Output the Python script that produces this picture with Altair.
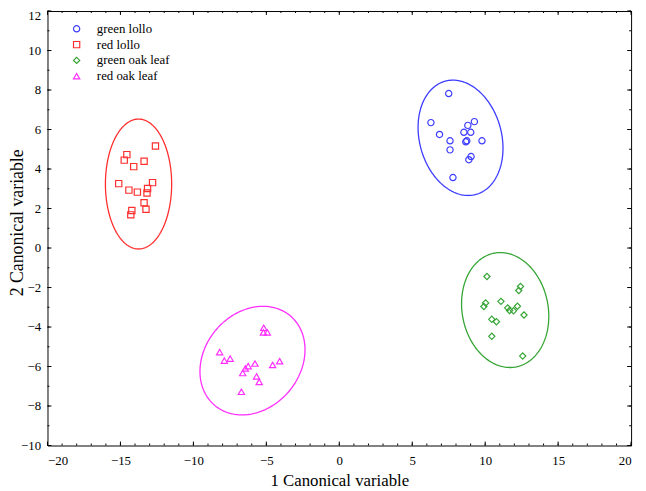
import altair as alt
import pandas as pd
import numpy as np

groups = ["green lollo", "red lollo", "green oak leaf", "red oak leaf"]
colors = ["#3c3cff", "#ff2e2e", "#35a535", "#ff2eff"]
shapes = ["circle", "square", "diamond", "triangle-up"]

gl_x = [7.50, 6.28, 6.87, 7.59, 7.59, 7.79, 8.54, 8.81, 9.26, 9.01, 8.74, 8.67, 9.78, 9.03, 8.88]
gl_y = [7.82, 6.35, 5.75, 5.43, 4.97, 3.57, 5.86, 6.21, 6.40, 5.86, 5.43, 5.38, 5.43, 4.63, 4.47]

rl_x = [-12.60, -14.56, -14.74, -13.38, -14.09, -15.12, -12.80, -14.42, -13.84, -13.14, -13.18, -13.38, -13.25, -14.22, -14.29]
rl_y = [5.17, 4.73, 4.45, 4.39, 4.12, 3.26, 3.31, 2.93, 2.83, 3.01, 2.79, 2.29, 1.96, 1.90, 1.68]

go_x = [10.12, 12.42, 12.30, 11.08, 10.03, 9.91, 11.54, 11.67, 11.94, 12.21, 12.66, 10.45, 10.77, 10.45, 12.57]
go_y = [-1.44, -1.95, -2.15, -2.70, -2.78, -2.96, -3.03, -3.16, -3.18, -2.95, -3.39, -3.61, -3.73, -4.47, -5.47]

ro_x = [-5.18, -5.20, -4.93, -8.20, -7.88, -7.48, -5.78, -4.09, -4.57, -6.24, -6.44, -6.62, -5.67, -5.49, -6.71]
ro_y = [-4.04, -4.27, -4.27, -5.27, -5.70, -5.60, -5.85, -5.73, -5.92, -5.98, -6.10, -6.33, -6.50, -6.78, -7.28]

# confidence ellipses: centre, half-extent in x and y, correlation
ell_cx = [8.31, -13.76, 11.37, -5.95]
ell_cy = [5.58, 3.24, -3.14, -5.70]
ell_sx = [2.91, 2.27, 2.99, 3.60]
ell_sy = [2.92, 3.29, 2.91, 2.75]
ell_r = [-0.18, 0.0, -0.11, 0.20]

x_major = list(range(-20, 21, 5))
x_minor = list(range(-20, 21, 1))
y_major = list(range(-10, 13, 2))
y_minor = list(range(-10, 13, 1))

# ---------------- build tables ----------------
pts = pd.concat([
    pd.DataFrame({"x": xs, "y": ys, "group": g})
    for xs, ys, g in [(gl_x, gl_y, groups[0]), (rl_x, rl_y, groups[1]),
                      (go_x, go_y, groups[2]), (ro_x, ro_y, groups[3])]
], ignore_index=True)

t = np.linspace(0, 2 * np.pi, 241)
ell_rows = []
for g, cx, cy, sx, sy, r in zip(groups, ell_cx, ell_cy, ell_sx, ell_sy, ell_r):
    ex = cx + sx * np.cos(t)
    ey = cy + sy * (r * np.cos(t) + np.sqrt(1 - r * r) * np.sin(t))
    ell_rows.append(pd.DataFrame({"x": ex, "y": ey, "group": g, "i": np.arange(len(t))}))
ell = pd.concat(ell_rows, ignore_index=True)

W, H = 591, 440
FONT = "Liberation Serif"

xscale = alt.Scale(domain=[-20, 20], nice=False, zero=False)
yscale = alt.Scale(domain=[-10, 12], nice=False, zero=False)
cscale = alt.Scale(domain=groups, range=colors)
sscale = alt.Scale(domain=groups, range=shapes)

x_axis = alt.Axis(values=x_major, grid=False, domain=False, ticks=False, tickSize=0,
                  labelFont=FONT, labelFontSize=13, labelColor="black", labelPadding=9,
                  title="1 Canonical variable", titleFont=FONT, titleFontSize=17,
                  titleFontWeight="normal", titleColor="black", titleY=35,
                  titleBaseline="middle")
y_axis = alt.Axis(values=y_major, grid=False, domain=False, ticks=False, tickSize=0,
                  labelFont=FONT, labelFontSize=13, labelColor="black", labelPadding=7,
                  labelOffset={"condition": {"test": "datum.value === 12", "value": 5}, "value": 0},
                  title="2 Canonical variable", titleFont=FONT, titleFontSize=18,
                  titleFontWeight="normal", titleColor="black", titleX=-30, titleY=H / 2 - 6,
                  titleAngle=-90, titleAlign="center", titleBaseline="middle")

XT = "1 Canonical variable"
YT = "2 Canonical variable"

leg = alt.Legend(title=None, orient="none", legendX=23, legendY=10,
                 labelFont=FONT, labelFontSize=13, labelColor="black",
                 symbolSize=40, symbolStrokeWidth=1.2, clipHeight=16,
                 rowPadding=0, labelOffset=14)

points = alt.Chart(pts).mark_point(filled=False, size=40, strokeWidth=1.2, opacity=1).encode(
    x=alt.X("x:Q", scale=xscale, axis=x_axis, title=XT),
    y=alt.Y("y:Q", scale=yscale, axis=y_axis, title=YT),
    color=alt.Color("group:N", scale=cscale, sort=groups, legend=leg),
    shape=alt.Shape("group:N", scale=sscale, sort=groups, legend=leg),
)

ellipses = alt.Chart(ell).mark_line(strokeWidth=1.3).encode(
    x=alt.X("x:Q", scale=xscale, axis=x_axis, title=XT),
    y=alt.Y("y:Q", scale=yscale, axis=y_axis, title=YT),
    stroke=alt.Stroke("group:N", scale=cscale, legend=None),
    detail="group:N",
    order="i:Q",
)

def xticks(vals, y0, y1):
    return alt.Chart(pd.DataFrame({"v": vals})).mark_rule(color="black", strokeWidth=1).encode(
        x=alt.X("v:Q", scale=xscale, axis=x_axis, title=XT), y=alt.value(y0), y2=alt.value(y1))

def yticks(vals, x0, x1):
    return alt.Chart(pd.DataFrame({"v": vals})).mark_rule(color="black", strokeWidth=1).encode(
        y=alt.Y("v:Q", scale=yscale, axis=y_axis, title=YT), x=alt.value(x0), x2=alt.value(x1))

ticks = [
    xticks(x_major, H, H - 4), xticks(x_minor, H, H - 2),
    xticks(x_major, 0, 4), xticks(x_minor, 0, 2),
    yticks(y_major, 0, 4), yticks(y_minor, 0, 2),
    yticks(y_major, W, W - 4), yticks(y_minor, W, W - 2),
]

chart = alt.layer(points, ellipses, *ticks).properties(
    width=W, height=H,
    autosize=alt.AutoSizeParams(type="none"),
    padding={"left": 40, "top": 0, "right": 7, "bottom": 43},
    background="white",
).configure_view(stroke="black", strokeWidth=1)

chart.save("out.html", embed_options={"renderer": "svg", "actions": False})
